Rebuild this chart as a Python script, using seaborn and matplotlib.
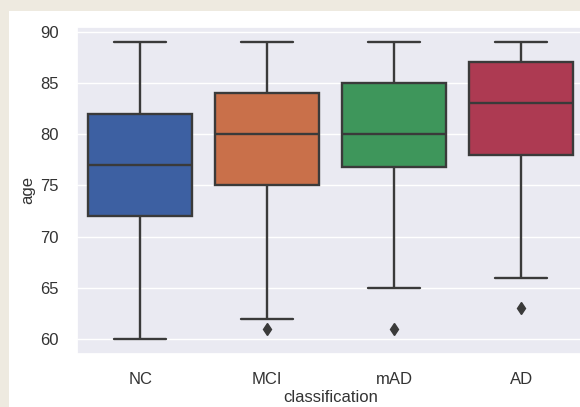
import pandas as pd
import seaborn as sns
import matplotlib.pyplot as plt
from matplotlib.patches import Rectangle

# ages per group, chosen so the box stats match the figure
# (9 values each -> Q1 = 3rd, median = 5th, Q3 = 7th value)
classes = ['NC', 'MCI', 'mAD', 'AD']
age_nc = [60, 60, 72, 74, 77, 80, 82, 89, 89]
age_mci = [61, 62, 75, 77, 80, 82, 84, 89, 89]
age_mad = [61, 65, 76.8, 78, 80, 83, 85, 89, 89]
age_ad = [63, 66, 78, 80, 83, 85, 87, 89, 89]

df = pd.DataFrame({
    'classification': sum([[c] * 9 for c in classes], []),
    'age': age_nc + age_mci + age_mad + age_ad,
})

box_colors = ['#3d60a2', '#c9704a', '#3e965b', '#ad3a52']
line_col = '#3a3a3a'
text_col = '#333333'

sns.set_theme(style='darkgrid')
plt.rcParams['font.family'] = ['Liberation Sans', 'DejaVu Sans']

fig = plt.figure(figsize=(5.8, 4.07), dpi=100, facecolor='#eeeae0')
# white page inside the beige screenshot frame
fig.patches.append(Rectangle((9 / 580, 0), 1, (407 - 11) / 407, transform=fig.transFigure,
                             facecolor='white', edgecolor='none', zorder=-1))

ax = fig.add_axes([77 / 580, 53 / 407, 507.5 / 580, 327 / 407])
sns.boxplot(data=df, x='classification', y='age', hue='classification',
            order=classes, palette=box_colors, saturation=1, legend=False,
            linewidth=1.7, linecolor=line_col, width=0.82,
            flierprops={'marker': 'd', 'markerfacecolor': line_col,
                        'markeredgecolor': line_col, 'markersize': 6},
            ax=ax)

ax.set_yticks([60, 65, 70, 75, 80, 85, 90])
ax.tick_params(axis='both', labelsize=12, labelcolor=text_col)
ax.tick_params(axis='y', pad=7)
ax.tick_params(axis='x', pad=7)
ax.set_xlabel('classification', fontsize=12, color=text_col, labelpad=2)
ax.set_ylabel('age', fontsize=12, color=text_col, labelpad=4)

plt.savefig('out.png', dpi=100, facecolor=fig.get_facecolor())
